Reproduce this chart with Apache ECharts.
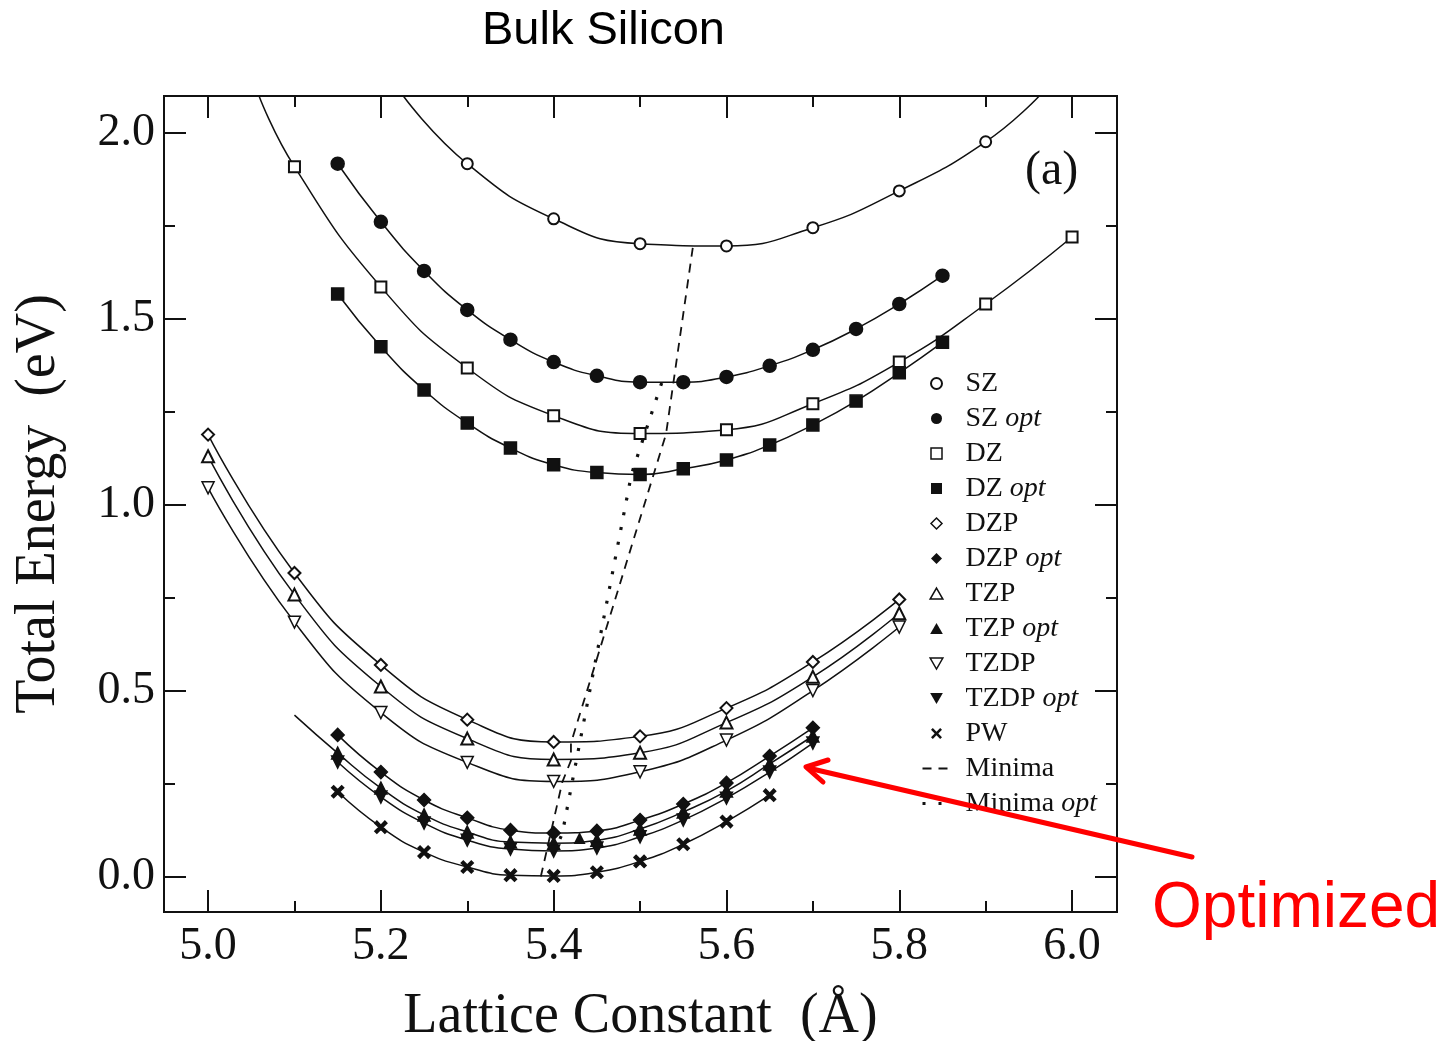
<!DOCTYPE html>
<html><head><meta charset="utf-8">
<script src="https://cdn.jsdelivr.net/npm/echarts@6/dist/echarts.min.js"></script>
<style>html,body{margin:0;padding:0;background:#fff}#c{width:1453px;height:1041px}</style>
</head><body><div id="c"></div>
<script>
// ---- tick labels ----
const xMajorTicks = [5.0, 5.2, 5.4, 5.6, 5.8, 6.0];
const xMinorTicks = [5.1, 5.3, 5.5, 5.7, 5.9];
const yMajorTicks = [0.0, 0.5, 1.0, 1.5, 2.0];
const yMinorTicks = [0.25, 0.75, 1.25, 1.75];

// ---- SZ / DZ family ----
const szX = [5.3, 5.4, 5.5, 5.6, 5.7, 5.8, 5.9];
const szY = [1.917, 1.769, 1.702, 1.696, 1.745, 1.844, 1.976];
const szCurveLeftEnd = [5.226, 2.099];
const szCurveRightEnd = [5.962, 2.099];

const optX = [5.15, 5.2, 5.25, 5.3, 5.35, 5.4, 5.45, 5.5, 5.55, 5.6, 5.65, 5.7, 5.75, 5.8, 5.85];
const szOptY = [1.917, 1.761, 1.629, 1.524, 1.444, 1.384, 1.347, 1.330, 1.330, 1.344, 1.374, 1.417, 1.473, 1.540, 1.616];

const dzX = [5.1, 5.2, 5.3, 5.4, 5.5, 5.6, 5.7, 5.8, 5.9, 6.0];
const dzY = [1.909, 1.586, 1.368, 1.240, 1.192, 1.202, 1.272, 1.384, 1.540, 1.720];
const dzCurveLeftEnd = [5.059, 2.099];
const dzOptY = [1.567, 1.425, 1.309, 1.220, 1.153, 1.108, 1.087, 1.082, 1.097, 1.121, 1.161, 1.215, 1.279, 1.355, 1.437];

// ---- polarized bases ----
const polX = [5.0, 5.1, 5.2, 5.3, 5.4, 5.5, 5.6, 5.7, 5.8];
const dzpY = [1.189, 0.817, 0.570, 0.423, 0.363, 0.378, 0.454, 0.578, 0.746];
const tzpY = [1.131, 0.759, 0.512, 0.372, 0.316, 0.334, 0.415, 0.538, 0.709];
const tzdpY = [1.046, 0.685, 0.442, 0.308, 0.257, 0.283, 0.368, 0.501, 0.672];

const clusterX = [5.15, 5.2, 5.25, 5.3, 5.35, 5.4, 5.45, 5.5, 5.55, 5.6, 5.65, 5.7];
const dzpOptY = [0.382, 0.282, 0.207, 0.159, 0.126, 0.118, 0.124, 0.153, 0.196, 0.253, 0.325, 0.401];
const tzpOptY = [0.333, 0.239, 0.167, 0.121, 0.094, 0.091, 0.099, 0.129, 0.175, 0.231, 0.304, 0.379];
const tzdpOptY = [0.309, 0.215, 0.145, 0.099, 0.075, 0.070, 0.078, 0.108, 0.153, 0.212, 0.282, 0.360];
const tzpOptCurveLeftEnd = [5.1, 0.435];
const tzpOptExtra = [[5.43, 0.105]];

const pwX = [5.15, 5.2, 5.25, 5.3, 5.35, 5.4, 5.45, 5.5, 5.55, 5.6, 5.65];
const pwY = [0.229, 0.134, 0.067, 0.027, 0.005, 0.003, 0.013, 0.042, 0.088, 0.149, 0.220];

// ---- minima lines ----
const minimaX = [5.561, 5.530, 5.420, 5.420, 5.410, 5.385];
const minimaY = [1.691, 1.190, 0.360, 0.313, 0.255, 0.000];
const minimaOptX = [5.525, 5.490, 5.410, 5.405, 5.400];
const minimaOptY = [1.328, 1.082, 0.117, 0.090, 0.069];

// ---- helpers ----
const zip = (xs, ys) => xs.map((x, i) => [x, ys[i]]);
const hidden = p => ({ value: p, symbol: 'none' });
const INK = '#111';
const SERIF = 'Liberation Serif';
const DOWN_TRI = 'path://M0,0L10,0L5,8.66Z';
const UP_TRI = 'path://M5,0L10,8.66L0,8.66Z';
const SQUARE = 'path://M0,0L10,0L10,10L0,10Z';
const DIAMOND = 'path://M5,0L10,5L5,10L0,5Z';
const CROSS = 'path://M0,2L2,0L6,4L10,0L12,2L8,6L12,10L10,12L6,8L2,12L0,10L4,6Z';

function curve(name, data, symbol, size, fill) {
  return {
    type: 'line', name, data, symbol, symbolSize: size, smooth: true,
    lineStyle: { color: INK, width: 1.5 },
    itemStyle: { color: fill, borderColor: INK, borderWidth: 1.5 },
    emphasis: { disabled: true }, animation: false, z: 3
  };
}

const series = [
  curve('SZ', [hidden(szCurveLeftEnd), ...zip(szX, szY), hidden(szCurveRightEnd)], 'emptyCircle', 11, INK),
  curve('SZ opt', zip(optX, szOptY), 'circle', 13, INK),
  curve('DZ', [hidden(dzCurveLeftEnd), ...zip(dzX, dzY)], 'emptyRect', 11, INK),
  curve('DZ opt', zip(optX, dzOptY), 'rect', 12, INK),
  curve('DZP', zip(polX, dzpY), 'emptyDiamond', 12, INK),
  curve('DZP opt', zip(clusterX, dzpOptY), 'diamond', 13, INK),
  curve('TZP', zip(polX, tzpY), 'emptyTriangle', 12, INK),
  curve('TZP opt', [hidden(tzpOptCurveLeftEnd), ...zip(clusterX, tzpOptY)], 'triangle', 12, INK),
  curve('TZDP', zip(polX, tzdpY), DOWN_TRI, 12, '#fff'),
  curve('TZDP opt', zip(clusterX, tzdpOptY), DOWN_TRI, 12, INK),
  curve('PW', zip(pwX, pwY), CROSS, 12, INK),
  {
    type: 'scatter', name: 'TZP opt', data: tzpOptExtra, symbol: 'triangle', symbolSize: 12,
    itemStyle: { color: INK, opacity: 1 }, z: 4, animation: false
  },
  {
    type: 'line', name: 'Minima', data: zip(minimaX, minimaY), symbol: 'none', smooth: false,
    lineStyle: { color: INK, width: 1.8, type: [9, 7] }, animation: false, z: 2
  },
  {
    type: 'line', name: 'Minima opt', data: zip(minimaOptX, minimaOptY), symbol: 'none', smooth: false,
    lineStyle: { color: INK, width: 3.2, type: [3, 12], cap: 'butt' }, animation: false, z: 2
  }
];

const X_MIN = 4.949, X_MAX = 6.052, Y_MIN = -0.094, Y_MAX = 2.099;
const axisLine = { show: true, onZero: false, lineStyle: { color: INK, width: 2 } };
const tickStyle = { color: INK, width: 2 };
function xAx(pos, ticks, len, withLabels) {
  const a = {
    type: 'value', position: pos, min: X_MIN, max: X_MAX, splitLine: { show: false },
    axisLine, axisTick: { show: true, inside: true, length: len, customValues: ticks, lineStyle: tickStyle },
    axisLabel: { show: false }
  };
  if (withLabels) {
    a.axisLabel = { show: true, customValues: xMajorTicks, formatter: v => v.toFixed(1), margin: 12,
      fontFamily: SERIF, fontSize: 46, color: INK };
    a.name = 'Lattice Constant  (\u00C5)';
    a.nameLocation = 'middle';
    a.nameGap = 77;
    a.nameTextStyle = { fontFamily: SERIF, fontSize: 56, color: INK };
  }
  return a;
}
function yAx(pos, ticks, len, withLabels) {
  const a = {
    type: 'value', position: pos, min: Y_MIN, max: Y_MAX, splitLine: { show: false },
    axisLine, axisTick: { show: true, inside: true, length: len, customValues: ticks, lineStyle: tickStyle },
    axisLabel: { show: false }
  };
  if (withLabels) {
    a.axisLabel = { show: true, customValues: yMajorTicks, formatter: v => v.toFixed(1), margin: 9,
      fontFamily: SERIF, fontSize: 46, color: INK };
    a.name = 'Total Energy  (eV)';
    a.nameLocation = 'middle';
    a.nameRotate = 90;
    a.nameGap = 97;
    a.nameTextStyle = { fontFamily: SERIF, fontSize: 56, color: INK };
  }
  return a;
}

const filled = { color: INK, borderColor: INK, borderWidth: 0 };
const hollow = { color: '#fff', borderColor: INK, borderWidth: 1.5 };
const legendData = [
  { name: 'SZ', icon: 'emptyCircle', itemStyle: { color: INK } },
  { name: 'SZ opt', icon: 'circle', itemStyle: filled },
  { name: 'DZ', icon: SQUARE, itemStyle: hollow },
  { name: 'DZ opt', icon: SQUARE, itemStyle: filled },
  { name: 'DZP', icon: DIAMOND, itemStyle: hollow },
  { name: 'DZP opt', icon: DIAMOND, itemStyle: filled },
  { name: 'TZP', icon: UP_TRI, itemStyle: hollow },
  { name: 'TZP opt', icon: UP_TRI, itemStyle: filled },
  { name: 'TZDP', icon: DOWN_TRI, itemStyle: hollow },
  { name: 'TZDP opt', icon: DOWN_TRI, itemStyle: filled },
  { name: 'PW', icon: CROSS, itemStyle: filled },
  { name: 'Minima', itemStyle: { opacity: 0 }, lineStyle: { color: INK, width: 2, type: [9, 7] } },
  { name: 'Minima opt', itemStyle: { opacity: 0 }, lineStyle: { color: INK, width: 3, type: [3, 13] } }
];

const chart = echarts.init(document.getElementById('c'), null, { renderer: 'canvas' });
chart.setOption({
  backgroundColor: '#fff',
  animation: false,
  title: [
    { text: 'Bulk Silicon', left: 482, top: 8, padding: 0,
      textStyle: { fontFamily: 'Liberation Sans', fontSize: 47, fontWeight: 'normal', color: '#000' } },
    { text: '(a)', left: 1025, top: 147, padding: 0,
      textStyle: { fontFamily: SERIF, fontSize: 48, fontWeight: 'normal', color: INK } },
    { text: 'Optimized', left: 1152, top: 877, padding: 0,
      textStyle: { fontFamily: 'Liberation Sans', fontSize: 64, fontWeight: 'normal', color: '#ff0000' } }
  ],
  grid: { left: 164, right: 336, top: 96, bottom: 129, containLabel: false, outerBoundsMode: 'none' },
  xAxis: [xAx('bottom', xMajorTicks, 22, true), xAx('bottom', xMinorTicks, 11, false),
          xAx('top', xMajorTicks, 22, false), xAx('top', xMinorTicks, 11, false)],
  yAxis: [yAx('left', yMajorTicks, 22, true), yAx('left', yMinorTicks, 11, false),
          yAx('right', yMajorTicks, 22, false), yAx('right', yMinorTicks, 11, false)],
  legend: {
    orient: 'vertical', left: 921, top: 366, padding: 0, itemGap: 0,
    itemWidth: 28, itemHeight: 11, selectedMode: false, symbolKeepAspect: true,
    formatter: n => n.endsWith(' opt') ? n.slice(0, -4) + ' {i|opt}' : n,
    textStyle: {
      fontFamily: SERIF, fontSize: 28, color: INK, lineHeight: 35, padding: [0, 0, 0, 10],
      rich: { i: { fontFamily: SERIF, fontSize: 28, fontStyle: 'italic', color: INK, lineHeight: 35 } }
    },
    data: legendData
  },
  graphic: [
    { type: 'line', z: 100, shape: { x1: 1192, y1: 857, x2: 808, y2: 768 },
      style: { stroke: '#ff0000', lineWidth: 5, lineCap: 'round' } },
    { type: 'polyline', z: 100, shape: { points: [[828, 760], [806, 767], [823, 782]] },
      style: { stroke: '#ff0000', lineWidth: 5, lineCap: 'round', lineJoin: 'round', fill: null } }
  ],
  series
});
</script></body></html>
